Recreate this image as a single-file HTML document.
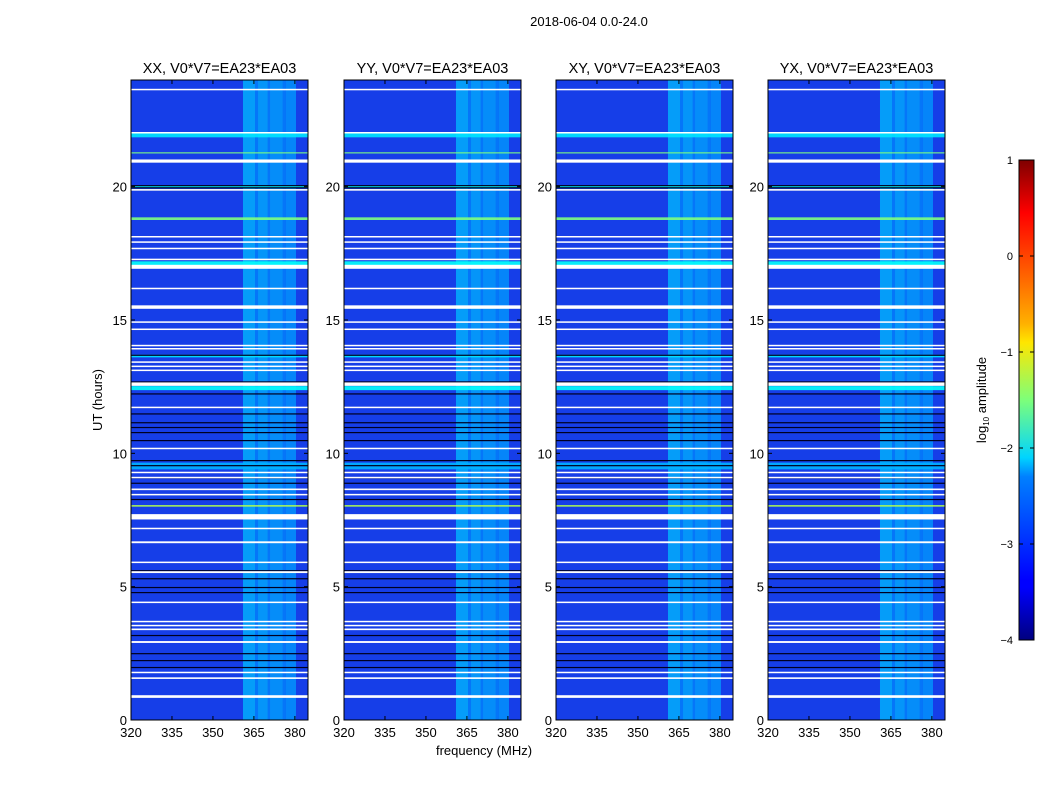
<!DOCTYPE html>
<html><head><meta charset="utf-8">
<style>
body{margin:0;background:#fff;width:1050px;height:800px;overflow:hidden;font-family:"Liberation Sans",sans-serif}
svg text{font-family:"Liberation Sans",sans-serif}
</style></head>
<body>
<svg id="chart" width="1050" height="800" xmlns="http://www.w3.org/2000/svg">
<defs>
<linearGradient id="jet" x1="0" y1="1" x2="0" y2="0">
<stop offset="0" stop-color="#00007f"/><stop offset="0.11" stop-color="#0000ff"/>
<stop offset="0.125" stop-color="#0000ff"/><stop offset="0.34" stop-color="#0080ff"/>
<stop offset="0.38" stop-color="#00d4ff"/><stop offset="0.5" stop-color="#7dff7a"/>
<stop offset="0.62" stop-color="#ffe600"/><stop offset="0.66" stop-color="#ffb000"/>
<stop offset="0.75" stop-color="#ff6a00"/><stop offset="0.89" stop-color="#ff0000"/>
<stop offset="1" stop-color="#7f0000"/></linearGradient>
</defs>
<text x="589" y="26" font-size="13" text-anchor="middle">2018-06-04 0.0-24.0</text>
<text x="484" y="755" font-size="13" text-anchor="middle">frequency (MHz)</text>
<text transform="translate(102,400) rotate(-90)" font-size="13" text-anchor="middle">UT (hours)</text>
<g id="panels"></g>
<g>
<rect x="1019" y="160" width="15" height="480" fill="url(#jet)" stroke="#000" stroke-width="1"/>
<text transform="translate(986,400) rotate(-90)" font-size="13" text-anchor="middle">log<tspan font-size="8" dy="3">10</tspan><tspan dy="-3"> amplitude</tspan></text>
<g id="cbticks"></g>
</g>
</svg>
<script>
const panelNames=["XX","YY","XY","YX"];
const freqTicks=[320,335,350,365,380];
const hourTicks=[0,5,10,15,20];
const cbTicks=[1,0,-1,-2,-3,-4];
// flagged (white) rows: [start hour, thickness hours]
const whiteRows=[[23.62,0.05],[22.0,0.05],[20.9,0.12],[19.85,0.06],[18.1,0.05],[17.9,0.05],[17.66,0.05],[17.25,0.05],[16.92,0.15],[16.16,0.05],[15.42,0.13],[14.9,0.05],[14.63,0.05],[14.02,0.05],[13.9,0.05],[13.4,0.05],[13.24,0.05],[13.09,0.05],[12.53,0.13],[11.7,0.05],[10.16,0.05],[9.26,0.05],[9.07,0.05],[8.62,0.06],[8.43,0.05],[7.52,0.2],[7.16,0.05],[6.63,0.07],[5.89,0.05],[5.51,0.07],[4.39,0.05],[3.67,0.05],[3.52,0.05],[3.37,0.06],[2.89,0.07],[1.76,0.05],[1.54,0.06],[0.83,0.1]];
// dark (black) rows
const darkRows=[20.06,19.98,19.9,13.7,12.7,12.25,11.5,11.17,10.99,10.8,10.5,9.75,9.56,9.1,8.9,8.29,5.62,5.32,4.99,4.8,3.19,2.51,2.25,1.99];
// bright bands: [start hour, thickness, colour level 0..1]
const brightRows=[[21.85,0.15,0.35],[21.25,0.04,0.5],[19.95,0.1,0.38],[18.75,0.1,0.5],[17.0,0.2,0.38],[13.6,0.1,0.35],[12.37,0.15,0.38],[9.4,0.25,0.3],[8.0,0.06,0.55]];
// RFI frequency bands [start MHz, end MHz, colour level]
const freqBands=[[361,365.4,0.31],[365.4,366.5,0.26],[366.5,370.1,0.3],[370.1,370.9,0.26],[370.9,375.6,0.29],[375.6,376.7,0.26],[376.7,380.4,0.28]];
const panelX=[131,344,556,768];
const PW=177, Y0=80, Y1=720;
const fmin=320, fmax=384.8, hmin=0, hmax=24;
// matplotlib jet colormap
function jet(v){v=Math.max(0,Math.min(1,v));
 const r=Math.max(0,Math.min(1,1.5-Math.abs(4*v-3))),g=Math.max(0,Math.min(1,1.5-Math.abs(4*v-2))),b=Math.max(0,Math.min(1,1.5-Math.abs(4*v-1)));
 return `rgb(${Math.round(r*255)},${Math.round(g*255)},${Math.round(b*255)})`;}
const baseColor='rgb(22,62,232)';
const NS="http://www.w3.org/2000/svg";
function mk(tag,attrs,parent){const e=document.createElementNS(NS,tag);for(const k in attrs)e.setAttribute(k,attrs[k]);parent.appendChild(e);return e;}
const root=document.getElementById('panels');
panelNames.forEach((nm,pi)=>{
 const x0=panelX[pi];
 const xs=f=>x0+(f-fmin)/(fmax-fmin)*PW;
 const ys=h=>Y1-(h-hmin)/(hmax-hmin)*(Y1-Y0);
 const g=mk('g',{},root);
 
 
 const bg=mk('rect',{x:x0,y:Y0,width:PW,height:Y1-Y0,fill:baseColor},g);
 
 
 freqBands.forEach(b=>{const r=mk('rect',{x:xs(b[0]),y:Y0,width:xs(b[1])-xs(b[0]),height:Y1-Y0,fill:jet(b[2]),opacity:0.75},g);
  
  });
 brightRows.forEach(b=>{const r=mk('rect',{x:x0,y:ys(b[0]+b[1]),width:PW,height:Math.max(1.2,ys(b[0])-ys(b[0]+b[1])),fill:jet(b[2]),opacity:0.9},g);
  
  });
 darkRows.forEach(h=>{const r=mk('rect',{x:x0,y:ys(h),width:PW,height:1.2,fill:'#000020'},g);
  
  });
 whiteRows.forEach(b=>{const r=mk('rect',{x:x0,y:ys(b[0]+b[1]),width:PW,height:Math.max(1.5,ys(b[0])-ys(b[0]+b[1])),fill:'#fff'},g);
  
  });
 mk('rect',{x:x0,y:Y0,width:PW,height:Y1-Y0,fill:'none',stroke:'#000','stroke-width':1},g);
 const t=mk('text',{x:x0+PW/2,y:73,'font-size':14.5,'text-anchor':'middle'},g);
 t.textContent=nm+', V0*V7=EA23*EA03';
 
 
 freqTicks.forEach(f=>{const x=xs(f);
  mk('line',{x1:x,x2:x,y1:Y1,y2:Y1-4,stroke:'#000'},g);mk('line',{x1:x,x2:x,y1:Y0,y2:Y0+4,stroke:'#000'},g);
  const l=mk('text',{x:x,y:Y1+17,'font-size':13,'text-anchor':'middle'},g);l.textContent=f;
  
  });
 hourTicks.forEach(h=>{const y=ys(h);
  mk('line',{x1:x0,x2:x0+4,y1:y,y2:y,stroke:'#000'},g);mk('line',{x1:x0+PW,x2:x0+PW-4,y1:y,y2:y,stroke:'#000'},g);
  const l=mk('text',{x:x0-4,y:y+5,'font-size':13,'text-anchor':'end'},g);l.textContent=h;
  
  });
});
const cb=document.getElementById('cbticks');
cbTicks.forEach(v=>{const y=160+(1-v)/5*480;
 mk('line',{x1:1019,x2:1023,y1:y,y2:y,stroke:'#000'},cb);mk('line',{x1:1034,x2:1030,y1:y,y2:y,stroke:'#000'},cb);
 const l=mk('text',{x:1013,y:y+4,'font-size':11,'text-anchor':'end'},cb);l.textContent=v<0?'\u2212'+(-v):v;
 
 });
</script>
</body></html>
